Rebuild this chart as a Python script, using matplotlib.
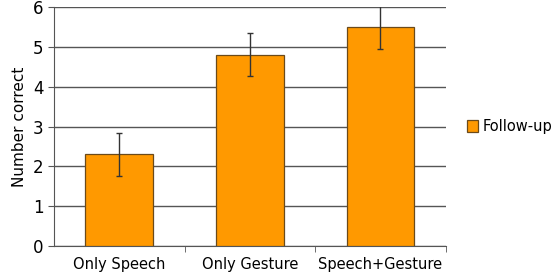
import numpy as np
import matplotlib.pyplot as plt

categories = ['Only Speech', 'Only Gesture', 'Speech+Gesture']
values = [2.3, 4.8, 5.5]
errors = [0.54, 0.54, 0.55]

fig = plt.figure(figsize=(5.51, 2.79), dpi=100)
ax = fig.add_axes([0.098, 0.118, 0.711, 0.857])

x = np.arange(len(categories))
ax.bar(x, values, width=0.52, color='#ff9900', edgecolor='#6b4a1a', linewidth=0.9,
       label='Follow-up', zorder=3)
ax.errorbar(x, values, yerr=errors, fmt='none', ecolor='#333333', elinewidth=1,
            capsize=2.5, capthick=1, zorder=4)

ax.set_xlim(-0.5, 2.5)
ax.set_ylim(0, 6)
ax.set_yticks(range(7))
ax.yaxis.grid(True, color='#555555', linewidth=1, zorder=0)
ax.set_axisbelow(True)

ax.set_xticks(x)
ax.set_xticklabels(categories, fontsize=10.5)
ax.set_xticks([0.5, 1.5, 2.5], minor=True)
ax.tick_params(axis='x', which='major', length=0, pad=8)
ax.tick_params(axis='x', which='minor', length=4, color='#555555')
ax.tick_params(axis='y', length=4, color='#555555', labelsize=12)

for s in ['top', 'right']:
    ax.spines[s].set_visible(False)
ax.spines['left'].set_color('#555555')
ax.spines['bottom'].set_color('#555555')

ax.set_ylabel('Number correct', fontsize=11)
ax.legend(loc='center left', bbox_to_anchor=(1.02, 0.5), frameon=False,
          fontsize=10.5, handlelength=0.8, handleheight=0.8, handletextpad=0.3)

plt.savefig('out.png', dpi=100)
